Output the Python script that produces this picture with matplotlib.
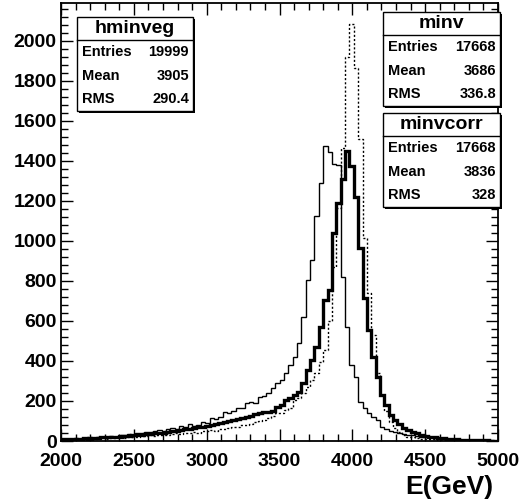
#!/usr/bin/env python3
import numpy as np
import matplotlib
matplotlib.use("Agg")
import matplotlib.pyplot as plt
from matplotlib.patches import Rectangle
from matplotlib.lines import Line2D

W, H = 523, 504

# 100 bins of 30 GeV between 2000 and 5000
E_MIN, E_MAX, N_BINS = 2000, 5000, 100

hminveg = [
    5, 6, 8, 6, 10, 8, 12, 10, 12, 14,
    12, 15, 14, 18, 16, 20, 22, 20, 25, 24,
    28, 25, 30, 32, 30, 35, 38, 36, 40, 42,
    45, 42, 48, 50, 55, 52, 60, 58, 65, 70,
    72, 78, 80, 85, 95, 100, 105, 115, 125, 140,
    140, 155, 165, 205, 214, 239, 269, 304, 339, 394,
    454, 600, 868, 1167, 1466, 1917, 2085, 1865, 1511, 1017,
    738, 530, 340, 230, 150, 95, 65, 45, 30, 20,
    18, 15, 12, 10, 9, 8, 7, 6, 5, 5,
    4, 4, 3, 3, 3, 2, 2, 2, 1, 1,
]

minv = [
    10, 12, 8, 15, 12, 14, 18, 15, 20, 18,
    20, 25, 22, 28, 30, 35, 32, 40, 38, 45,
    45, 50, 55, 52, 60, 65, 62, 75, 70, 85,
    75, 80, 95, 90, 115, 110, 120, 145, 140, 150,
    165, 165, 190, 195, 190, 220, 225, 240, 264, 289,
    304, 339, 379, 419, 489, 618, 803, 903, 1127, 1292,
    1475, 1446, 1386, 1380, 818, 568, 379, 319, 195, 165,
    140, 120, 105, 70, 60, 50, 45, 40, 35, 30,
    28, 25, 22, 20, 18, 15, 14, 12, 10, 9,
    8, 7, 6, 5, 5, 4, 4, 3, 3, 2,
]

minvcorr = [
    8, 10, 8, 12, 10, 14, 12, 15, 16, 18,
    18, 20, 22, 20, 25, 26, 28, 30, 30, 34,
    36, 38, 40, 42, 45, 48, 50, 55, 58, 62,
    65, 68, 70, 75, 80, 85, 90, 95, 100, 105,
    110, 115, 120, 125, 135, 140, 145, 145, 150, 170,
    180, 204, 214, 229, 244, 289, 354, 404, 469, 568,
    703, 753, 1040, 1190, 1310, 1451, 1376, 1222, 963, 713,
    554, 419, 320, 229, 180, 130, 105, 85, 65, 55,
    45, 38, 30, 25, 22, 18, 15, 13, 11, 10,
    8, 7, 6, 5, 5, 4, 3, 3, 2, 2,
]

stat_names = ["hminveg", "minv", "minvcorr"]
stat_entries = ["19999", "17668", "17668"]
stat_means = ["3905", "3686", "3836"]
stat_rms = ["290.4", "336.8", "328"]

x_label = "E(GeV)"

FONT = "Liberation Sans"


def stats_box(fig, x0, y0, x1, y1, name, entries, mean, rms):
    # box corners given in pixels, origin top-left
    fx = lambda x: x / W
    fy = lambda y: 1 - y / H
    w, h = (x1 - x0) / W, (y1 - y0) / H
    fig.add_artist(Rectangle((fx(x0 + 2), fy(y1 + 2)), w, h, transform=fig.transFigure,
                             facecolor="black", edgecolor="none", zorder=5))
    fig.add_artist(Rectangle((fx(x0), fy(y1)), w, h, transform=fig.transFigure,
                             facecolor="white", edgecolor="black", lw=1.0, zorder=6))
    sep = y0 + 0.245 * (y1 - y0)
    fig.add_artist(Line2D([fx(x0), fx(x1)], [fy(sep), fy(sep)], transform=fig.transFigure,
                          color="black", lw=1.0, zorder=7))
    fig.text(fx((x0 + x1) / 2), fy((y0 + sep) / 2), name, ha="center", va="center",
             fontsize=14, fontweight="bold", family=FONT, zorder=8)
    row_h = (y1 - sep) / 3
    for i, (lab, val) in enumerate([("Entries", entries), ("Mean", mean), ("RMS", rms)]):
        yc = fy(sep + (i + 0.5) * row_h)
        fig.text(fx(x0 + 5), yc, lab, ha="left", va="center",
                 fontsize=10.5, fontweight="bold", family=FONT, zorder=8)
        fig.text(fx(x1 - 4), yc, val, ha="right", va="center",
                 fontsize=10.5, fontweight="bold", family=FONT, zorder=8)


def main():
    fig = plt.figure(figsize=(W / 100, H / 100), dpi=100)
    ax = fig.add_axes([61 / W, (H - 441) / H, (498 - 61) / W, (441 - 3) / H])

    edges = np.linspace(E_MIN, E_MAX, N_BINS + 1)
    ax.stairs(minv, edges, color="black", lw=1.0, baseline=None)
    ax.stairs(minvcorr, edges, color="black", lw=2.4, baseline=None)
    ax.stairs(hminveg, edges, color="black", lw=1.0, linestyle=(0, (1.5, 1.5)), baseline=None)

    ax.set_xlim(E_MIN, E_MAX)
    ax.set_ylim(0, 1.05 * max(hminveg))
    ax.set_xticks(np.arange(2000, 5001, 500))
    ax.set_xticks(np.arange(2000, 5001, 100), minor=True)
    ax.set_yticks(np.arange(0, 2001, 200))
    ax.set_yticks(np.arange(0, 2180, 40), minor=True)
    ax.tick_params(which="both", direction="in", top=True, right=True, width=1.0)
    ax.tick_params(which="major", length=8.5)
    ax.tick_params(which="minor", length=5)
    ax.tick_params(axis="x", pad=9)
    ax.tick_params(axis="y", pad=3)
    for lab in ax.get_xticklabels() + ax.get_yticklabels():
        lab.set_fontfamily(FONT)
        lab.set_fontweight("bold")
        lab.set_fontsize(14)
    for sp in ax.spines.values():
        sp.set_linewidth(1.3)

    fig.text(493 / W, 1 - 487 / H, x_label, ha="right", va="center",
             fontsize=19, fontweight="bold", family=FONT)

    boxes = [(77, 17, 193, 111), (383, 12, 500, 106), (383, 113, 500, 207)]
    for (x0, y0, x1, y1), n, e, m, r in zip(boxes, stat_names, stat_entries, stat_means, stat_rms):
        stats_box(fig, x0, y0, x1, y1, n, e, m, r)

    fig.savefig("out.png", dpi=100)


if __name__ == "__main__":
    main()
